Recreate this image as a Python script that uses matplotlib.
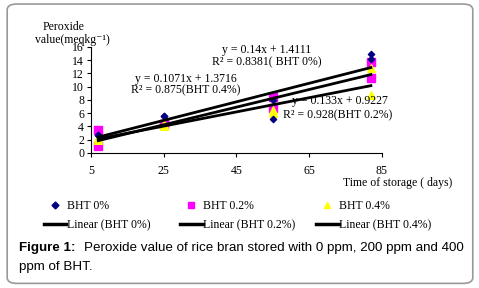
import matplotlib.pyplot as plt
import numpy as np
from matplotlib.patches import FancyBboxPatch
from matplotlib.lines import Line2D

# storage days and peroxide values (two replicates read per day)
days = [7, 7, 25, 25, 55, 55, 82, 82]
bht_0 = [2.7, 2.7, 5.6, 5.6, 8.0, 5.1, 15.0, 14.2]
bht_02 = [3.5, 1.0, 4.4, 4.4, 8.4, 6.8, 13.7, 11.3]
bht_04 = [2.2, 2.0, 4.0, 4.3, 6.5, 6.1, 12.8, 8.8]

# trend line coefficients from the chart labels (slope, intercept)
fit_0 = (0.14, 1.4111)
fit_02 = (0.133, 0.9227)
fit_04 = (0.1071, 1.3716)
fit_range = [7, 82]

x_ticks = [5, 25, 45, 65, 85]
y_ticks = [0, 2, 4, 6, 8, 10, 12, 14, 16]

plt.rcParams['font.family'] = ['Liberation Serif', 'DejaVu Serif']
fs = 8.5

fig = plt.figure(figsize=(4.79, 2.88), dpi=100)
ax = fig.add_axes([0.190, 0.469, 0.607, 0.368])

ax.scatter(days, bht_0, marker='D', s=10, color='#000080', zorder=4)
ax.scatter(days, bht_02, marker='s', s=30, color='#ff00ff', zorder=3)
ax.scatter(days, bht_04, marker='^', s=30, color='#ffff00', zorder=3)

xf = np.array(fit_range)
for m, b in (fit_0, fit_02, fit_04):
    ax.plot(xf, m * xf + b, color='black', lw=2, zorder=5)

ax.set_xlim(5, 85)
ax.set_ylim(0, 16)
ax.set_xticks(x_ticks)
ax.set_yticks(y_ticks)
ax.tick_params(labelsize=fs, length=3, width=0.8, pad=2)
ax.tick_params(axis='x', pad=6)
for s in ('top', 'right'):
    ax.spines[s].set_visible(False)

ax.text(41, 15.5, 'y = 0.14x + 1.4111', fontsize=fs, va='center')
ax.text(38.2, 13.7, 'R² = 0.8381( BHT 0%)', fontsize=fs, va='center')
ax.text(17.1, 11.2, 'y = 0.1071x + 1.3716', fontsize=fs, va='center')
ax.text(16, 9.4, 'R² = 0.875(BHT 0.4%)', fontsize=fs, va='center')
ax.text(60.2, 7.8, 'y = 0.133x + 0.9227', fontsize=fs, va='center')
ax.text(57.7, 5.7, 'R² = 0.928(BHT 0.2%)', fontsize=fs, va='center')

fig.text(0.088, 0.906, 'Peroxide', fontsize=fs, ha='left', va='center')
fig.text(0.073, 0.861, 'value(meqkg⁻¹)', fontsize=fs, ha='left', va='center')
fig.text(0.716, 0.366, 'Time of storage ( days)', fontsize=fs, ha='left', va='center')

series = [('D', 3.5, '#000080', '0%'), ('s', 5, '#ff00ff', '0.2%'), ('^', 5, '#ffff00', '0.4%')]
col_x = [0.092, 0.376, 0.660]
for (mk, ms, c, name), cx in zip(series, col_x):
    h = [Line2D([], [], ls='none', marker=mk, ms=ms, color=c),
         Line2D([], [], color='black', lw=2.5)]
    fig.legend(h, ['BHT ' + name, 'Linear (BHT ' + name + ')'], loc='upper left',
               bbox_to_anchor=(cx, 0.305), frameon=False, fontsize=fs,
               handlelength=1.9, handletextpad=0.05, labelspacing=0.6,
               borderaxespad=0, borderpad=0)

cap_fs = 9.6
fig.text(0.040, 0.140, 'Figure 1:', fontsize=cap_fs, family='Liberation Sans',
         fontweight='bold', va='center')
fig.text(0.175, 0.140, 'Peroxide value of rice bran stored with 0 ppm, 200 ppm and 400',
         fontsize=cap_fs, family='Liberation Sans', va='center')
fig.text(0.040, 0.073, 'ppm of BHT.', fontsize=cap_fs, family='Liberation Sans', va='center')

box = FancyBboxPatch((0.015, 0.016), 0.972, 0.97, boxstyle='round,pad=0,rounding_size=0.02',
                     transform=fig.transFigure, fill=False, edgecolor='#999999', lw=1.2)
fig.patches.append(box)

fig.savefig('out.png', dpi=100)
